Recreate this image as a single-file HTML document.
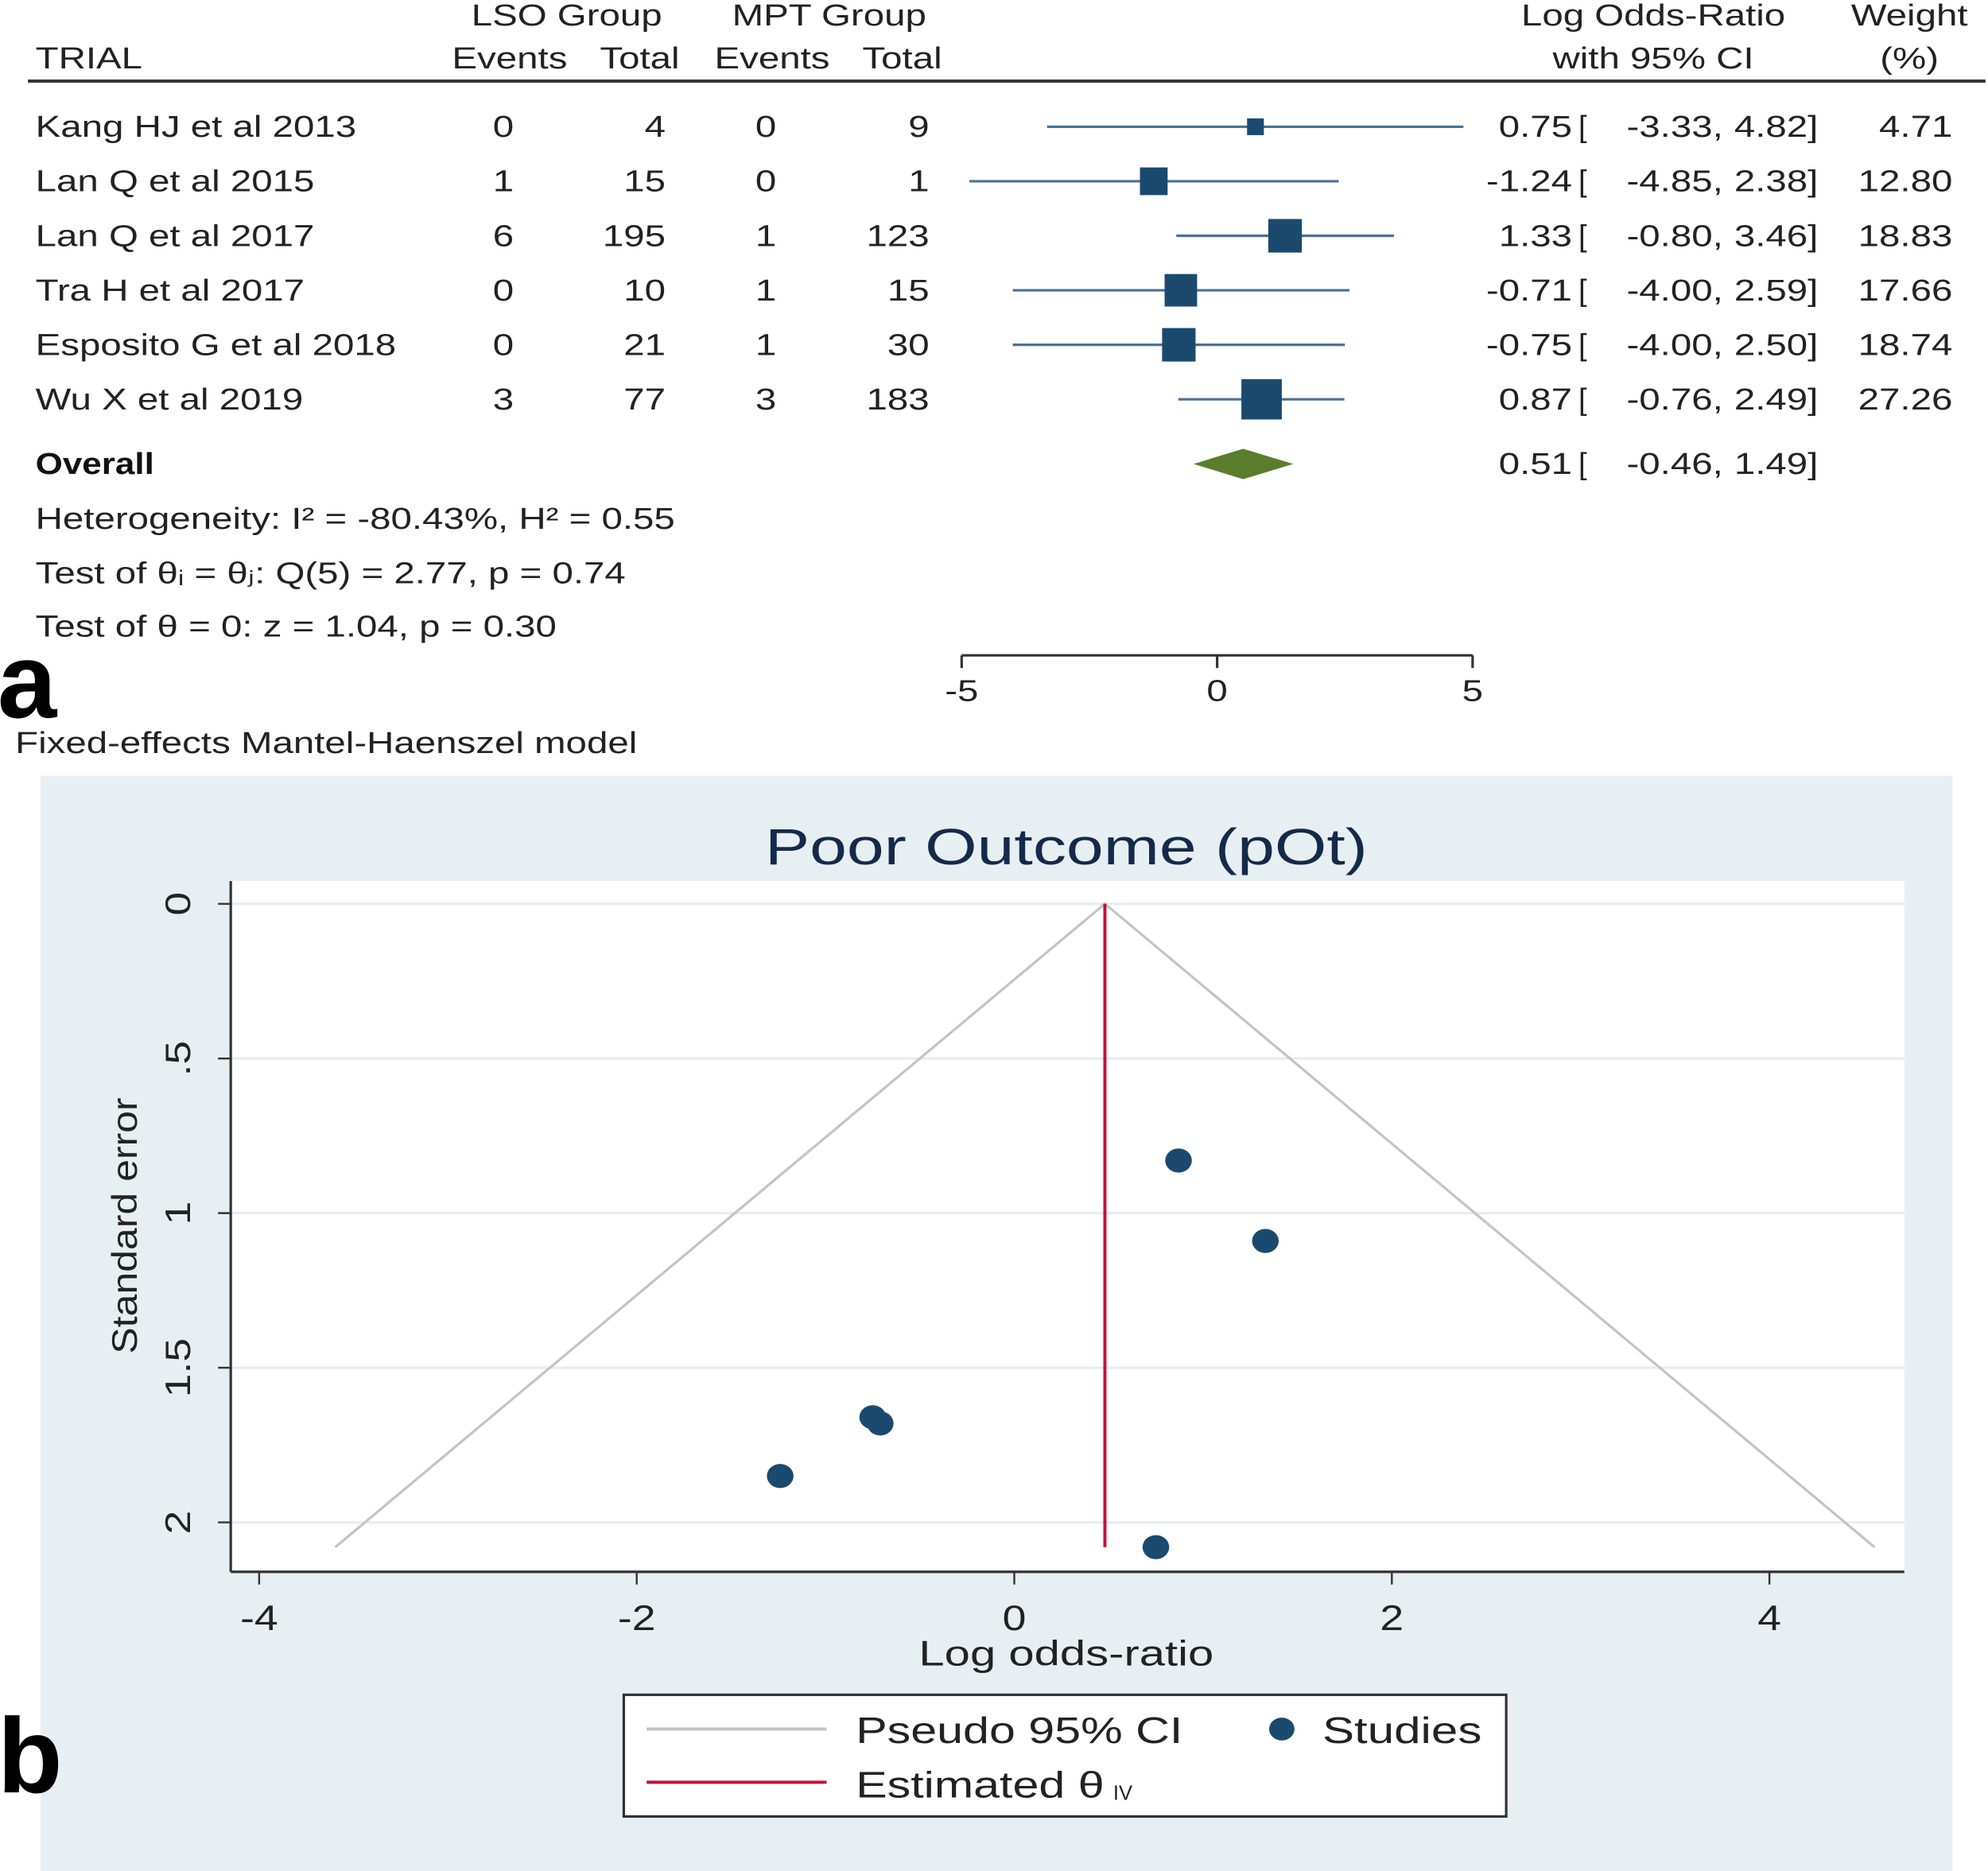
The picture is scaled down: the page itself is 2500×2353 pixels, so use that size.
<!DOCTYPE html>
<html><head><meta charset="utf-8"><style>
html,body{margin:0;padding:0;background:#fff;}
svg{display:block;font-family:"Liberation Sans",Arial,sans-serif;}
</style></head><body>
<svg id="fig" width="2500" height="2353" viewBox="0 0 1568 1476" preserveAspectRatio="none" xmlns="http://www.w3.org/2000/svg">
<g id="forest"></g>
<g id="funnel"></g>
</svg>
<script>
// ---- Forest plot data ----
const studies=["Kang HJ et al 2013","Lan Q et al 2015","Lan Q et al 2017","Tra H et al 2017","Esposito G et al 2018","Wu X et al 2019"];
const lsoEvents=[0,1,6,0,0,3];
const lsoTotal=[4,15,195,10,21,77];
const mptEvents=[0,0,1,1,1,3];
const mptTotal=[9,1,123,15,30,183];
const logOR=[0.75,-1.24,1.33,-0.71,-0.75,0.87];
const ciLow=[-3.33,-4.85,-0.80,-4.00,-4.00,-0.76];
const ciHigh=[4.82,2.38,3.46,2.59,2.50,2.49];
const weights=[4.71,12.80,18.83,17.66,18.74,27.26];
const overall=[0.51,-0.46,1.49];
const forestTicks=[-5,0,5];
// ---- Funnel plot data ----
const seValues=[2.08,1.85,1.09,1.68,1.66,0.83];
const funnelXTicks=[-4,-2,0,2,4];
const funnelYTicks=[0,0.5,1,1.5,2];
const thetaIV=0.48;
const seMax=2.08;

const NS="http://www.w3.org/2000/svg";
const stretch=[];
function mk(parent,tag,attrs,text,k){const e=document.createElementNS(NS,tag);for(const a in attrs)e.setAttribute(a,attrs[a]);if(text!==undefined)e.textContent=text;parent.appendChild(e);if(tag==='text')stretch.push([e,k||1.24]);return e;}
const F=document.getElementById('forest');
const P=document.getElementById('funnel');
const fx=v=>960+v*40.3;
const rowY=i=>100+i*43;
let e;
function ciText(y,est,lo,hi){
 const g=mk(F,'g',{});
 
 
 mk(g,'text',{x:1240,y:y,'font-size':24,fill:'#222','text-anchor':'end'},est.toFixed(2));
 mk(g,'text',{x:1245,y:y,'font-size':24,fill:'#222'},'[',1);
 mk(g,'text',{x:1359,y:y,'font-size':24,fill:'#222','text-anchor':'end'},lo.toFixed(2)+',');
 mk(g,'text',{x:1434,y:y,'font-size':24,fill:'#222','text-anchor':'end'},hi.toFixed(2)+']');
}
const hdr=[["LSO Group",447,12,"middle"],["MPT Group",654,12,"middle"],["TRIAL",28,46,"start"],["Events",402,46,"middle"],["Total",536,46,"end"],["Events",609,46,"middle"],["Total",743,46,"end"],["Log Odds-Ratio",1304,12,"middle"],["with 95% CI",1304,46,"middle"],["Weight",1506,12,"middle"],["(%)",1506,46,"middle"]];
hdr.forEach(h=>{e=mk(F,'text',{x:h[1],y:h[2]+8,'font-size':24,fill:'#222','text-anchor':h[3]},h[0]);

});
e=mk(F,'line',{x1:22,x2:1566,y1:64,y2:64,stroke:'#333','stroke-width':2.5});


studies.forEach((s,i)=>{const y=rowY(i)+8;
 e=mk(F,'text',{x:28,y:y,'font-size':24,fill:'#222'},s);
 
 
 [[lsoEvents[i],397,'middle'],[lsoTotal[i],525,'end'],[mptEvents[i],604,'middle'],[mptTotal[i],733,'end']].forEach(c=>{
  e=mk(F,'text',{x:c[1],y:y,'font-size':24,fill:'#222','text-anchor':c[2]},c[0]);
  
  });
 e=mk(F,'line',{x1:fx(ciLow[i]),x2:fx(ciHigh[i]),y1:rowY(i),y2:rowY(i),stroke:'#4a7194','stroke-width':2});
 
 
 const sz=6.1*Math.sqrt(weights[i]);
 e=mk(F,'rect',{x:fx(logOR[i])-sz/2,y:rowY(i)-sz/2,width:sz,height:sz,fill:'#1b4a6e'});
 
 
 ciText(y,logOR[i],ciLow[i],ciHigh[i]);
 e=mk(F,'text',{x:1540,y:y,'font-size':24,fill:'#222','text-anchor':'end'},weights[i].toFixed(2));
 
 
});
e=mk(F,'text',{x:28,y:374,'font-size':24,'font-weight':'bold',fill:'#111'},'Overall',1.15);


e=mk(F,'polygon',{points:`${fx(overall[1])},366 ${fx(overall[0])},354 ${fx(overall[2])},366 ${fx(overall[0])},378`,fill:'#5a7d2c'});


ciText(374,overall[0],overall[1],overall[2]);
const notes=[["Heterogeneity: I² = -80.43%, H² = 0.55",417],["Test of θᵢ = θⱼ: Q(5) = 2.77, p = 0.74",460],["Test of θ = 0: z = 1.04, p = 0.30",502]];
notes.forEach(n=>{e=mk(F,'text',{x:28,y:n[1],'font-size':24,fill:'#222'},n[0]);

});
e=mk(F,'line',{x1:fx(-5),x2:fx(5),y1:517,y2:517,stroke:'#333','stroke-width':2});


forestTicks.forEach(t=>{mk(F,'line',{x1:fx(t),x2:fx(t),y1:517,y2:527,stroke:'#333','stroke-width':2});
 e=mk(F,'text',{x:fx(t),y:553,'font-size':24,fill:'#222','text-anchor':'middle'},t);
 
 });
e=mk(F,'text',{x:-2,y:566,'font-size':84,'font-weight':'bold',fill:'#000'},'a',1);


e=mk(F,'text',{x:12,y:594,'font-size':24,fill:'#222'},'Fixed-effects Mantel-Haenszel model');



// ---- funnel ----
const px=v=>800+v*148.9, py=v=>713+v*244;
e=mk(P,'rect',{x:32,y:612,width:1508,height:864,fill:'#e8eff2'});


e=mk(P,'rect',{x:182,y:695,width:1320,height:545,fill:'#fff'});


e=mk(P,'text',{x:841,y:682,'font-size':40,fill:'#142a4c','text-anchor':'middle'},'Poor Outcome (pOt)',1.32);


funnelYTicks.forEach(t=>{mk(P,'line',{x1:182,x2:1502,y1:py(t),y2:py(t),stroke:'#e6eef1','stroke-width':2});
 mk(P,'line',{x1:172,x2:182,y1:py(t),y2:py(t),stroke:'#333','stroke-width':1.5});
 e=mk(P,'text',{x:0,y:0,'font-size':28,fill:'#222','text-anchor':'middle',transform:`translate(150,${py(t)}) rotate(-90)`},String(t).replace(/^0\./,'.'),1.2);
 
 });
e=mk(P,'line',{x1:182,x2:182,y1:695,y2:1240,stroke:'#333','stroke-width':2});


e=mk(P,'line',{x1:182,x2:1502,y1:1240,y2:1240,stroke:'#333','stroke-width':2});


funnelXTicks.forEach(t=>{mk(P,'line',{x1:px(t),x2:px(t),y1:1240,y2:1250,stroke:'#333','stroke-width':1.5});
 e=mk(P,'text',{x:px(t),y:1286,'font-size':28,fill:'#222','text-anchor':'middle'},t,1.2);
 
 });
e=mk(P,'text',{x:0,y:0,'font-size':28,fill:'#222','text-anchor':'middle',transform:'translate(108,967) rotate(-90)'},'Standard error',1.12);


e=mk(P,'text',{x:841,y:1314,'font-size':28,fill:'#222','text-anchor':'middle'},'Log odds-ratio',1.3);


e=mk(P,'polyline',{points:`${px(thetaIV-1.96*seMax)},${py(seMax)} ${px(thetaIV)},${py(0)} ${px(thetaIV+1.96*seMax)},${py(seMax)}`,fill:'none',stroke:'#c4c4c4','stroke-width':2});


e=mk(P,'line',{x1:px(thetaIV),x2:px(thetaIV),y1:py(0),y2:py(seMax),stroke:'#c8103a','stroke-width':2.5});


logOR.forEach((v,i)=>{e=mk(P,'ellipse',{cx:px(v),cy:py(seValues[i]),rx:10.5,ry:9.5,fill:'#1b4a6e'});
 
 });
e=mk(P,'rect',{x:492,y:1337,width:696,height:96,fill:'#fff',stroke:'#333','stroke-width':2});


mk(P,'line',{x1:510,x2:652,y1:1364,y2:1364,stroke:'#c4c4c4','stroke-width':2.5});
e=mk(P,'text',{x:675,y:1375,'font-size':29,fill:'#222'},'Pseudo 95% CI',1.28);


mk(P,'ellipse',{cx:1011,cy:1364,rx:10,ry:9,fill:'#1b4a6e'});
e=mk(P,'text',{x:1043,y:1375,'font-size':29,fill:'#222'},'Studies',1.3);


mk(P,'line',{x1:510,x2:652,y1:1406,y2:1406,stroke:'#c8103a','stroke-width':2.5});
e=mk(P,'text',{x:675,y:1418,'font-size':29,fill:'#222'},'Estimated θ',1.28);


mk(P,'text',{x:878,y:1420,'font-size':16,fill:'#222'},'IV',1);
e=mk(P,'text',{x:-2,y:1414,'font-size':84,'font-weight':'bold',fill:'#000'},'b',1);



stretch.forEach(([t,k])=>{if(k===1)return;const L=t.getComputedTextLength();if(L>0){t.setAttribute('textLength',L*k);t.setAttribute('lengthAdjust','spacingAndGlyphs');}});
</script>
</body></html>
